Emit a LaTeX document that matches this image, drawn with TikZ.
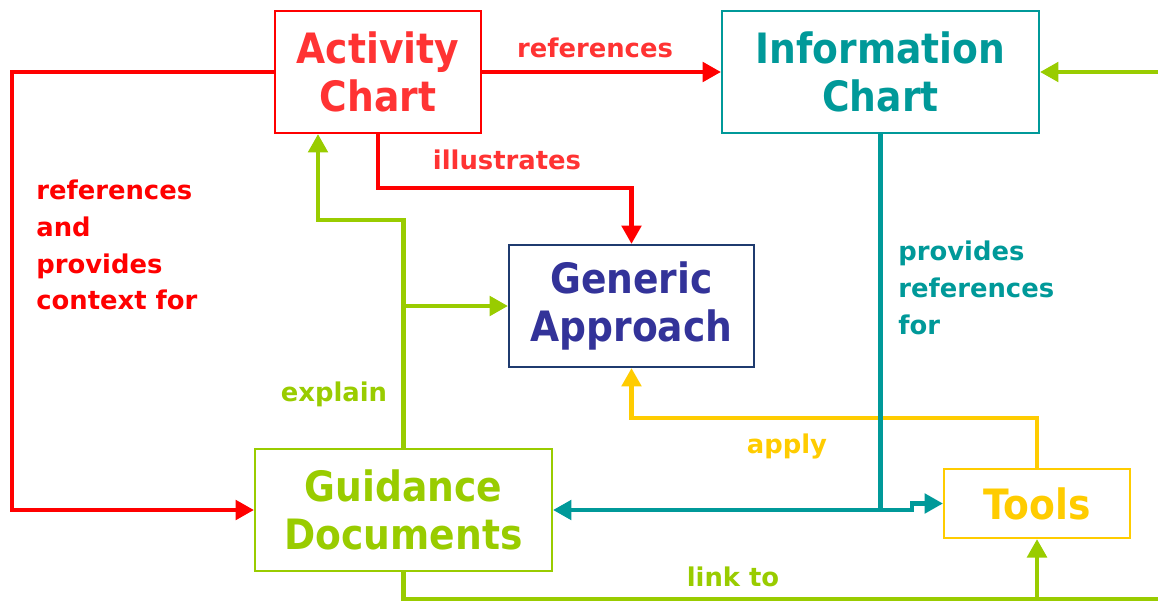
\documentclass[tikz,border=0pt]{standalone}
\usepackage{fontspec}
\setmainfont{DejaVu Sans}
\newfontfamily\boxfont{DejaVu Sans}[FakeStretch=0.9]
\usepackage{xcolor}
\usepackage{tikz}
\usetikzlibrary{positioning,calc,arrows.meta}

\definecolor{actred}{HTML}{FF3333}
\definecolor{linered}{HTML}{FF0000}
\definecolor{infoteal}{HTML}{009999}
\definecolor{genblue}{HTML}{333399}
\definecolor{genframe}{HTML}{1F3B6F}
\definecolor{guidegreen}{HTML}{99CC00}
\definecolor{toolyellow}{HTML}{FFCC00}

\begin{document}
\begin{tikzpicture}[
					x=0.02cm, y=-0.02cm,
					chartbox/.style={
						draw, line width=1.2pt, fill=white,
						align=center, inner sep=0pt,
						minimum height=2.44cm,
						font=\boxfont\bfseries\fontsize{23.8}{27.2}\selectfont
					},
					lbl/.style={
						inner sep=0pt, align=left,
						font=\bfseries\fontsize{14.7}{21}\selectfont
					},
					conn/.style={
						line width=2.5pt,
						-{Triangle[length=10.5pt,width=11pt]}
					},
					plain/.style={line width=2.5pt}
					]
					\useasboundingbox (0,0) rectangle (1158,601);
					
					% --- KHUNG ---
					\node[chartbox, draw=linered, text=actred, minimum width=4.12cm] (act) at (378,72) {Activity\\Chart};
					\node[chartbox, draw=infoteal, text=infoteal, minimum width=6.34cm] (info) at (880.5,72) {Information\\Chart};
					\node[chartbox, draw=genframe, text=genblue, minimum width=4.9cm] (gen) at (631.5,306) {Generic\\Approach};
					\node[chartbox, draw=guidegreen, text=guidegreen, minimum width=5.94cm] (guide) at (403.5,510) {Guidance\\Documents};
					\node[chartbox, draw=toolyellow, text=toolyellow, minimum width=3.72cm, minimum height=1.38cm] (tools) at (1037,503.5) {Tools};
					
					% --- DIEM PHU ---
					\coordinate (redleft) at (12,72);
					\coordinate (redbend) at (631.5,188);
					\coordinate (greenbend) at (403.5,220);
					\coordinate (greenbottom) at (403.5,599);
					\coordinate (greenend) at (1158,599);
					\coordinate (greenin) at (1158,72);
					\coordinate (yellowbend) at (631.5,418);
					\coordinate (tealhop) at (912,510);
					
					% --- DO ---
					\draw[conn, linered] (act.east) -- (info.west);
					\draw[conn, linered] (act.west) -- (redleft) |- (guide.west);
					\draw[conn, linered] (act.south) |- (redbend) -- (gen.north);
					
					% --- XANH LA ---
					\draw[conn, guidegreen] (guide.north) -- (greenbend) -| ($(act.south)+(-60,0)$);
					\draw[conn, guidegreen] (guide.north |- gen.west) -- (gen.west);
					\draw[plain, guidegreen] (guide.south) -- (greenbottom) -- (greenend);
					\draw[conn, guidegreen] (tools.south |- greenend) -- (tools.south);
					\draw[conn, guidegreen] (greenin) -- (info.east);
					
					% --- VANG ---
					\draw[conn, toolyellow] (tools.north) |- (yellowbend) -- (gen.south);
					
					% --- XANH NGOC ---
					\draw[plain, infoteal] (info.south) -- (info.south |- guide.east);
					\draw[conn, infoteal, {Triangle[length=10.5pt,width=11pt]}-{Triangle[length=10.5pt,width=11pt]}] (guide.east) -- (tealhop) |- (tools.west);
					
					% --- NHAN ---
					\node[lbl, text=actred] (lref) at (595,48) {references};
					\node[lbl, text=actred] (lill) at (507,160) {illustrates};
					\node[lbl, text=linered, anchor=west] (lctx) at (36,245) {references\\and\\provides\\context for};
					\node[lbl, text=guidegreen] (lexp) at (334,394) {explain};
					\node[lbl, text=infoteal, anchor=west] (lprov) at (898,288) {provides\\references\\for};
					\node[lbl, text=toolyellow] (lapp) at (787,446) {apply};
					\node[lbl, text=guidegreen] (llink) at (733,577) {link to};
					
				\end{tikzpicture}
\end{document}
